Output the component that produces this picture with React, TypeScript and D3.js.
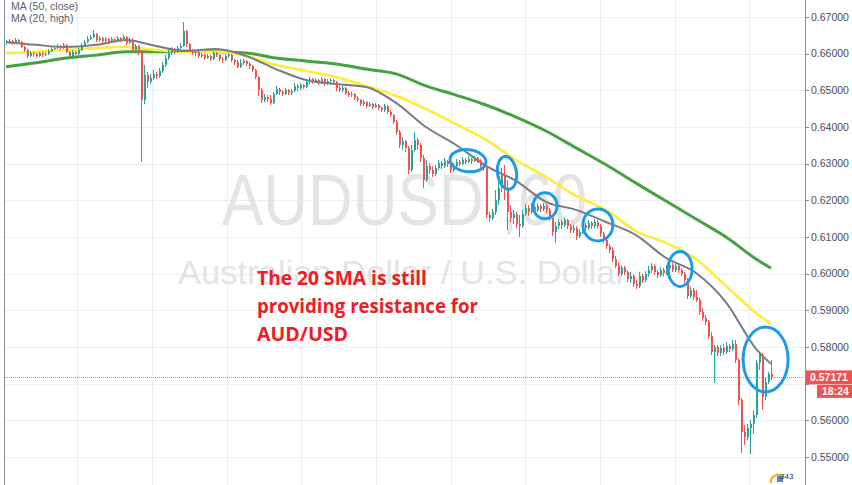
import React from "react";
import * as d3 from "d3";

// ---------- DATA ----------
const firstOpen = 0.6629;
const closes = [
  0.6632, 0.6635, 0.6629, 0.6637, 0.6632, 0.6618, 0.6610, 0.6594, 0.6602, 0.6599,
  0.6594, 0.6602, 0.6596, 0.6599, 0.6607, 0.6613, 0.6615, 0.6621, 0.6615, 0.6624,
  0.6605, 0.6594, 0.6605, 0.6599, 0.6610, 0.6624, 0.6632, 0.6640, 0.6645, 0.6654,
  0.6637, 0.6643, 0.6635, 0.6640, 0.6632, 0.6640, 0.6635, 0.6643, 0.6637, 0.6645,
  0.6629, 0.6637, 0.6610, 0.6621, 0.6605, 0.6474, 0.6542, 0.6523, 0.6534, 0.6545,
  0.6539, 0.6553, 0.6569, 0.6588, 0.6602, 0.6613, 0.6605, 0.6615, 0.6621, 0.6662,
  0.6626, 0.6610, 0.6602, 0.6605, 0.6594, 0.6596, 0.6588, 0.6594, 0.6585, 0.6602,
  0.6596, 0.6585, 0.6583, 0.6594, 0.6596, 0.6583, 0.6577, 0.6564, 0.6575, 0.6580,
  0.6572, 0.6566, 0.6555, 0.6536, 0.6501, 0.6474, 0.6482, 0.6476, 0.6466, 0.6490,
  0.6504, 0.6495, 0.6490, 0.6501, 0.6493, 0.6498, 0.6512, 0.6506, 0.6515, 0.6509,
  0.6523, 0.6531, 0.6525, 0.6528, 0.6520, 0.6531, 0.6517, 0.6525, 0.6528, 0.6523,
  0.6506, 0.6501, 0.6506, 0.6493, 0.6487, 0.6490, 0.6479, 0.6474, 0.6463, 0.6468,
  0.6457, 0.6463, 0.6455, 0.6460, 0.6452, 0.6446, 0.6457, 0.6441, 0.6433, 0.6414,
  0.6386, 0.6351, 0.6362, 0.6343, 0.6283, 0.6337, 0.6365, 0.6351, 0.6316, 0.6255,
  0.6294, 0.6283, 0.6272, 0.6288, 0.6302, 0.6294, 0.6307, 0.6299, 0.6283, 0.6294,
  0.6305, 0.6299, 0.6310, 0.6305, 0.6313, 0.6307, 0.6316, 0.6307, 0.6294, 0.6288,
  0.6160, 0.6152, 0.6168, 0.6201, 0.6234, 0.6269, 0.6228, 0.6168, 0.6152, 0.6163,
  0.6136, 0.6130, 0.6163, 0.6179, 0.6168, 0.6182, 0.6174, 0.6185, 0.6176, 0.6185,
  0.6174, 0.6152, 0.6114, 0.6130, 0.6141, 0.6133, 0.6146, 0.6130, 0.6119, 0.6125,
  0.6103, 0.6114, 0.6133, 0.6125, 0.6138, 0.6130, 0.6141, 0.6130, 0.6108, 0.6092,
  0.6075, 0.6065, 0.6040, 0.6021, 0.5999, 0.6015, 0.6004, 0.5985, 0.5993, 0.5972,
  0.5966, 0.5993, 0.5983, 0.5999, 0.6010, 0.6021, 0.6004, 0.5996, 0.6010, 0.6002,
  0.6015, 0.6024, 0.6010, 0.6021, 0.6010, 0.5999, 0.5983, 0.5939, 0.5955, 0.5936,
  0.5928, 0.5895, 0.5879, 0.5868, 0.5830, 0.5786, 0.5800, 0.5784, 0.5797, 0.5786,
  0.5803, 0.5795, 0.5808, 0.5765, 0.5656, 0.5568, 0.5555, 0.5579, 0.5590, 0.5615,
  0.5756, 0.5778, 0.5664, 0.5704, 0.5726, 0.5717,
];
// wick lengths beyond the body, in pips
const upWickPips = [
  5, 5, 3, 5, 3, 3, 3, 3, 5, 3, 3, 3, 3, 5, 5, 5, 5, 5, 3, 5,
  2, 3, 5, 3, 5, 5, 5, 8, 5, 11, 3, 5, 3, 5, 3, 5, 3, 5, 3, 5,
  3, 8, 5, 5, 3, 5, 27, 8, 11, 11, 5, 8, 8, 8, 8, 5, 3, 5, 8, 25,
  3, 3, 3, 5, 3, 5, 3, 5, 3, 5, 3, 3, 5, 5, 5, 3, 3, 5, 11, 5,
  3, 5, 3, 3, 3, 5, 8, 5, 11, 5, 8, 3, 5, 5, 3, 5, 8, 5, 5, 3,
  5, 5, 3, 5, 3, 5, 3, 5, 5, 3, 3, 5, 5, 3, 5, 5, 3, 5, 3, 5,
  3, 5, 3, 5, 3, 5, 5, 3, 5, 3, 5, 5, 11, 3, 5, 14, 22, 5, 5, 8,
  16, 8, 11, 8, 8, 5, 8, 3, 5, 8, 8, 5, 8, 5, 8, 3, 5, 3, 5, 5,
  5, 8, 8, 27, 16, 19, 27, 27, 19, 11, 5, 25, 11, 11, 8, 11, 5, 8, 5, 8,
  5, 5, 5, 11, 8, 5, 5, 3, 5, 8, 5, 8, 8, 5, 8, 5, 8, 5, 5, 5,
  5, 5, 8, 8, 11, 8, 5, 5, 11, 5, 11, 11, 5, 8, 11, 8, 5, 5, 8, 5,
  8, 8, 5, 5, 3, 5, 5, 5, 8, 5, 19, 5, 11, 8, 5, 11, 5, 5, 8, 11,
  11, 5, 11, 11, 5, 5, 19, 11, 11, 14, 8, 8, 5, 11, 5, 38,
];
const downWickPips = [
  5, 5, 5, 3, 5, 3, 5, 5, 3, 8, 5, 3, 5, 3, 3, 3, 3, 3, 5, 3,
  3, 5, 3, 3, 3, 3, 3, 3, 3, 3, 5, 5, 5, 3, 5, 3, 5, 3, 5, 3,
  5, 3, 5, 3, 8, 169, 11, 16, 5, 5, 8, 5, 5, 5, 5, 5, 5, 3, 5, 3,
  8, 5, 5, 8, 5, 5, 5, 3, 5, 3, 5, 5, 8, 3, 5, 5, 8, 3, 3, 5,
  5, 8, 5, 5, 16, 8, 5, 8, 5, 3, 3, 8, 5, 3, 5, 5, 3, 8, 5, 5,
  3, 5, 8, 5, 5, 3, 5, 3, 5, 5, 8, 5, 5, 5, 5, 5, 5, 5, 5, 5,
  5, 3, 5, 3, 5, 5, 5, 5, 5, 5, 8, 8, 14, 11, 11, 5, 5, 14, 11, 22,
  5, 11, 8, 5, 5, 8, 5, 8, 8, 5, 5, 5, 3, 5, 3, 8, 3, 5, 5, 8,
  8, 11, 5, 8, 14, 11, 27, 49, 11, 16, 11, 30, 5, 5, 11, 5, 8, 5, 8, 5,
  8, 8, 11, 30, 8, 11, 5, 8, 8, 8, 11, 5, 5, 8, 5, 8, 5, 8, 8, 8,
  8, 8, 8, 5, 5, 5, 8, 8, 11, 8, 8, 5, 8, 5, 8, 8, 8, 8, 5, 8,
  5, 5, 5, 5, 8, 5, 8, 8, 5, 8, 5, 8, 8, 8, 8, 8, 85, 8, 8, 8,
  5, 8, 5, 8, 14, 57, 22, 8, 71, 27, 8, 19, 35, 8, 5, 8,
];

// moving averages, sampled at candle indices
const maIndex = [0, 10, 20, 30, 40, 50, 60, 70, 80, 90, 100, 110, 120, 130, 140, 150, 160, 170, 180, 190, 200, 210, 220, 230, 240, 250, 255];
const maGray = [0.6632, 0.6624, 0.6618, 0.6624, 0.6637, 0.6621, 0.6607, 0.6613, 0.6594, 0.6558, 0.6528, 0.6517, 0.6509, 0.6466, 0.6400, 0.6351, 0.6294, 0.6253, 0.6196, 0.6174, 0.6141, 0.6105, 0.6043, 0.6002, 0.5922, 0.5795, 0.5754];
const maYellow = [0.6602, 0.6605, 0.6610, 0.6615, 0.6618, 0.6610, 0.6605, 0.6605, 0.6594, 0.6569, 0.6553, 0.6536, 0.6512, 0.6485, 0.6449, 0.6408, 0.6365, 0.6310, 0.6264, 0.6212, 0.6174, 0.6116, 0.6084, 0.6040, 0.5966, 0.5893, 0.5863];
const maGreen = [0.6564, 0.6575, 0.6588, 0.6596, 0.6605, 0.6605, 0.6607, 0.6605, 0.6602, 0.6588, 0.6580, 0.6572, 0.6558, 0.6545, 0.6512, 0.6487, 0.6460, 0.6427, 0.6389, 0.6343, 0.6297, 0.6247, 0.6198, 0.6149, 0.6100, 0.6040, 0.6015];

const priceTicks = [0.55, 0.56, 0.57, 0.58, 0.59, 0.6, 0.61, 0.62, 0.63, 0.64, 0.65, 0.66, 0.67];
const hiddenTickLabels = [0.57]; // covered by the last-price label
const dayGridIndex = [23.7, 48.6, 73.5, 98.4, 123.3, 148.2, 173.1, 198, 222.9, 247.8];
const lastPrice = 0.57171;
const countdown = "18:24";
const legendLabels = ["MA (50, close)", "MA (20, high)"];
const noteLines = ["The 20 SMA is still", "providing resistance for", "AUD/USD"];
// highlighted touches of the 20 SMA: candle index, price
const touches = [
  { i: 154, p: 0.6308, rx: 18, ry: 11, rot: 6 },
  { i: 167, p: 0.6275, rx: 9.5, ry: 16.5, rot: -8 },
  { i: 179.7, p: 0.6185, rx: 12, ry: 13, rot: 0 },
  { i: 197.3, p: 0.6133, rx: 15, ry: 16, rot: 0 },
  { i: 224.7, p: 0.6013, rx: 12, ry: 17.5, rot: 0 },
  { i: 253.2, p: 0.5766, rx: 22.5, ry: 32.5, rot: 0 },
];

// ---------- CHART ----------
const W = 852;
const H = 485;
const AXIS_X = 805;
const UP = "#26a69a";
const DOWN = "#ef5350";

export default function App() {
  const x = d3.scaleLinear().domain([0, closes.length - 1]).range([6, 771]);
  const y = d3.scaleLinear().domain([0.55, 0.67]).range([457, 17]);
  const fmt = d3.format(".5f");

  const candles = closes.map((c, i) => {
    const o = i === 0 ? firstOpen : closes[i - 1];
    const hi = Math.max(o, c) + upWickPips[i] * 0.0001;
    const lo = Math.min(o, c) - downWickPips[i] * 0.0001;
    return { i, o, c, hi, lo };
  });

  const line = (vals: number[]) =>
    d3
      .line<number>()
      .x((_, k) => x(maIndex[k]))
      .y((v) => y(v))
      .curve(d3.curveMonotoneX)(vals) || "";

  const yLast = y(lastPrice);

  return (
    <svg
      width={W}
      height={H}
      style={{ position: "absolute", left: 0, top: 0, background: "#fff" }}
      fontFamily="'Liberation Sans', Arial, sans-serif"
    >
      <rect x={0} y={0} width={W} height={H} fill="#ffffff" />
      {/* grid */}
      <g stroke="#e9eff3" strokeWidth={1} shapeRendering="crispEdges">
        {priceTicks.map((t) => (
          <line key={t} x1={5} x2={AXIS_X} y1={Math.round(y(t)) + 0.5} y2={Math.round(y(t)) + 0.5} />
        ))}
        {dayGridIndex.map((g) => (
          <line key={g} x1={Math.round(x(g)) + 0.5} x2={Math.round(x(g)) + 0.5} y1={0} y2={H} />
        ))}
      </g>
      {/* watermark */}
      <g fill="#e4e4e4">
        <text x={222} y={225} fontSize={72} textLength={365} lengthAdjust="spacingAndGlyphs">
          AUDUSD ,60
        </text>
        <text x={178} y={284} fontSize={33} textLength={449} lengthAdjust="spacingAndGlyphs">
          Australian Dollar / U.S. Dollar
        </text>
      </g>
      {/* legend */}
      <g fill="#5d606b" fontSize={10.5}>
        {legendLabels.map((l, k) => (
          <text key={l} x={11} y={10 + k * 11.5}>
            {l}
          </text>
        ))}
      </g>
      {/* last price line */}
      <line x1={5} x2={AXIS_X} y1={Math.round(yLast) + 0.5} y2={Math.round(yLast) + 0.5} stroke={DOWN} strokeWidth={1} strokeDasharray="1 1" opacity={0.8} />
      {/* moving averages */}
      <path d={line(maGreen)} fill="none" stroke="#43a343" strokeWidth={3} />
      <path d={line(maYellow)} fill="none" stroke="#ffeb3b" strokeWidth={2.6} />
      <path d={line(maGray)} fill="none" stroke="#787b86" strokeWidth={2} />
      {/* candles */}
      <g shapeRendering="crispEdges">
        {candles.map((d) => {
          const col = d.c >= d.o ? UP : DOWN;
          const cx = Math.round(x(d.i));
          const top = y(Math.max(d.o, d.c));
          const bot = y(Math.min(d.o, d.c));
          return (
            <g key={d.i} fill={col}>
              <rect x={cx} y={y(d.hi)} width={1} height={Math.max(1, y(d.lo) - y(d.hi))} />
              <rect x={cx - 0.5} y={top} width={2} height={Math.max(1, bot - top)} />
            </g>
          );
        })}
      </g>
      {/* annotation ellipses */}
      <g fill="none" stroke="#1d9be4" strokeWidth={3}>
        {touches.map((t, k) => (
          <ellipse
            key={k}
            cx={x(t.i)}
            cy={y(t.p)}
            rx={t.rx}
            ry={t.ry}
            transform={`rotate(${t.rot} ${x(t.i)} ${y(t.p)})`}
          />
        ))}
      </g>
      {/* note */}
      <g fill="#ee1c25" fontWeight="bold" fontSize={20} fontFamily="'Open Sans', 'Noto Sans', sans-serif">
        <text x={257} y={285} textLength={170} lengthAdjust="spacingAndGlyphs">
          {noteLines[0]}
        </text>
        <text x={257} y={313} textLength={221} lengthAdjust="spacingAndGlyphs">
          {noteLines[1]}
        </text>
        <text x={257} y={341} textLength={91} lengthAdjust="spacingAndGlyphs">
          {noteLines[2]}
        </text>
      </g>
      {/* borders */}
      <g stroke="#8a8d99" shapeRendering="crispEdges">
        <line x1={4.5} x2={4.5} y1={0} y2={H} strokeWidth={1.5} />
        <line x1={AXIS_X + 0.5} x2={AXIS_X + 0.5} y1={0} y2={H} strokeWidth={1} />
      </g>
      {/* y axis */}
      <g fontSize={10.5} fill="#4a4c55">
        {priceTicks.map((t) => (
          <g key={t}>
            <line x1={AXIS_X} x2={AXIS_X + 4} y1={Math.round(y(t)) + 0.5} y2={Math.round(y(t)) + 0.5} stroke="#8a8d99" />
            {hiddenTickLabels.includes(t) ? null : (
              <text x={811} y={y(t) + 3.8}>
                {fmt(t)}
              </text>
            )}
          </g>
        ))}
      </g>
      {/* last price label */}
      <rect x={806} y={yLast - 7} width={46} height={14} fill={DOWN} />
      <text x={810} y={yLast + 4} fontSize={10.5} fontWeight="bold" fill="#fff">
        {fmt(lastPrice)}
      </text>
      <rect x={817} y={yLast + 7.5} width={35} height={13} fill={DOWN} />
      <text x={822} y={yLast + 18} fontSize={10.5} fontWeight="bold" fill="#fff">
        {countdown}
      </text>
      {/* bottom logo */}
      <g>
        <path d="M771 483 a7 7 0 0 1 12 -6" fill="none" stroke="#f5a623" strokeWidth={2} />
        <rect x={777} y={476} width={6} height={6} fill="#5b7fd6" />
        <text x={780} y={479} fontSize={8} fill="#333">
          343
        </text>
      </g>
    </svg>
  );
}
